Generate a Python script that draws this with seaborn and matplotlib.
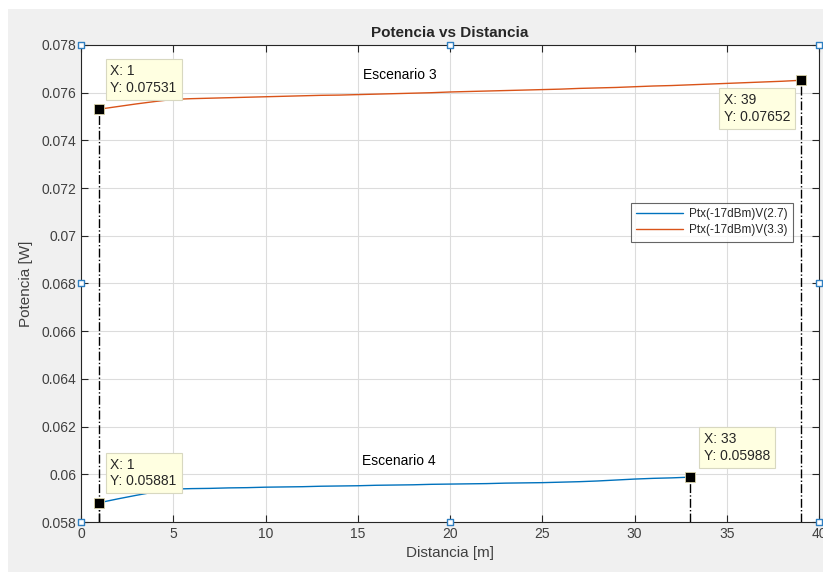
import matplotlib.pyplot as plt
import seaborn as sns
import pandas as pd
from matplotlib.patches import Rectangle

# Data
dist_27 = list(range(1, 34))
pot_27 = [0.05881, 0.05897, 0.05912, 0.05926, 0.05938, 0.05940, 0.05941, 0.05943,
          0.05944, 0.05946, 0.05947, 0.05948, 0.05950, 0.05951, 0.05952, 0.05954,
          0.05955, 0.05956, 0.05958, 0.05959, 0.05960, 0.05961, 0.05963, 0.05964,
          0.05965, 0.05967, 0.05969, 0.05972, 0.05976, 0.05980, 0.05983, 0.05985,
          0.05988]

dist_33 = list(range(1, 40))
pot_33 = [0.07531, 0.07542, 0.07553, 0.07563, 0.07572, 0.07575, 0.07577, 0.07579,
          0.07581, 0.07583, 0.07585, 0.07587, 0.07589, 0.07590, 0.07592, 0.07594,
          0.07596, 0.07598, 0.07600, 0.07603, 0.07605, 0.07607, 0.07609, 0.07611,
          0.07613, 0.07615, 0.07618, 0.07620, 0.07622, 0.07625, 0.07628, 0.07630,
          0.07633, 0.07636, 0.07639, 0.07642, 0.07645, 0.07648, 0.07652]

series_names = ["Ptx(-17dBm)V(2.7)", "Ptx(-17dBm)V(3.3)"]
series_colors = ["#0072BD", "#D95319"]

# data tips: (x, y, offset in pixels for the text box)
tips = [(1, 0.07531, (11, 45)), (39, 0.07652, (-77, -13)),
        (1, 0.05881, (11, 45)), (33, 0.05988, (14, 45))]

scenario_labels = [("Escenario 3", 17.3, 0.07674), ("Escenario 4", 17.2, 0.06056)]

df = pd.concat([
    pd.DataFrame({"Distancia": dist_27, "Potencia": pot_27, "Serie": series_names[0]}),
    pd.DataFrame({"Distancia": dist_33, "Potencia": pot_33, "Serie": series_names[1]}),
])

sns.set_style("ticks")
plt.rcParams["font.family"] = ["Liberation Sans", "DejaVu Sans"]

fig = plt.figure(figsize=(8.23, 5.72), dpi=100, facecolor="white")
fig.patches.append(Rectangle((8 / 823, 0), 1, 1 - 9 / 572, transform=fig.transFigure,
                             facecolor="#f0f0f0", edgecolor="none", zorder=-10))
ax = fig.add_axes([81 / 823, 1 - 522 / 572, 738 / 823, 477 / 572])
ax.set_facecolor("white")

sns.lineplot(data=df, x="Distancia", y="Potencia", hue="Serie",
             palette=dict(zip(series_names, series_colors)), linewidth=1.0,
             ax=ax, zorder=3)

ax.set_xlim(0, 40)
ax.set_ylim(0.058, 0.078)
ax.set_xticks(range(0, 41, 5))
ax.set_yticks([0.058 + 0.002 * i for i in range(11)])
ax.set_yticklabels([f"{0.058 + 0.002 * i:.3f}".rstrip("0") for i in range(11)])
ax.grid(True, color="#dcdcdc", linewidth=0.8)
ax.tick_params(direction="in", length=5, top=True, right=True, labelsize=10,
               colors="#262626", labelcolor="#404040", width=0.8)
for s in ax.spines.values():
    s.set_color("#262626")
    s.set_linewidth(0.8)

ax.set_title("Potencia vs Distancia", fontsize=11, fontweight="bold", pad=6)
ax.set_xlabel("Distancia [m]", fontsize=11, color="#404040", labelpad=4)
ax.set_ylabel("Potencia [W]", fontsize=11, color="#404040", labelpad=6)

# data tips
for x, y, off in tips:
    ax.plot([x, x], [0.058, y], color="black", linestyle="-.", linewidth=1.0, zorder=4)
    ax.plot([x], [y], marker="s", markersize=7, color="black",
            markeredgecolor="#d8d2a8", markeredgewidth=0.6, zorder=6)
    ax.annotate(f"X: {x}\nY: {y:.5f}", xy=(x, y),
                xytext=off, textcoords="offset pixels", ha="left", va="top",
                fontsize=10, color="#262626", linespacing=1.25, zorder=7,
                bbox=dict(boxstyle="square,pad=0.35", facecolor="#ffffe1",
                          edgecolor="#d8d8c0", linewidth=0.8))

for label, x, y in scenario_labels:
    ax.text(x, y, label, ha="center", va="center", fontsize=10, color="black")

# edit handles on the axes box
hx = [0, 20, 40, 0, 40, 0, 20, 40]
hy = [0.078, 0.078, 0.078, 0.068, 0.068, 0.058, 0.058, 0.058]
ax.scatter(hx, hy, marker="s", s=22, facecolor="white", edgecolor="#2f7fc1",
           linewidth=1.0, clip_on=False, zorder=8)

leg = ax.legend(loc="upper right", bbox_to_anchor=(0.965, 0.669), borderaxespad=0,
                fontsize=8.5, frameon=True, fancybox=False, handlelength=4.0,
                borderpad=0.45, labelspacing=0.35, handletextpad=0.5, title=None)
leg.get_frame().set_edgecolor("#404040")
leg.get_frame().set_linewidth(0.8)

fig.savefig("out.png", dpi=100, facecolor=fig.get_facecolor())
